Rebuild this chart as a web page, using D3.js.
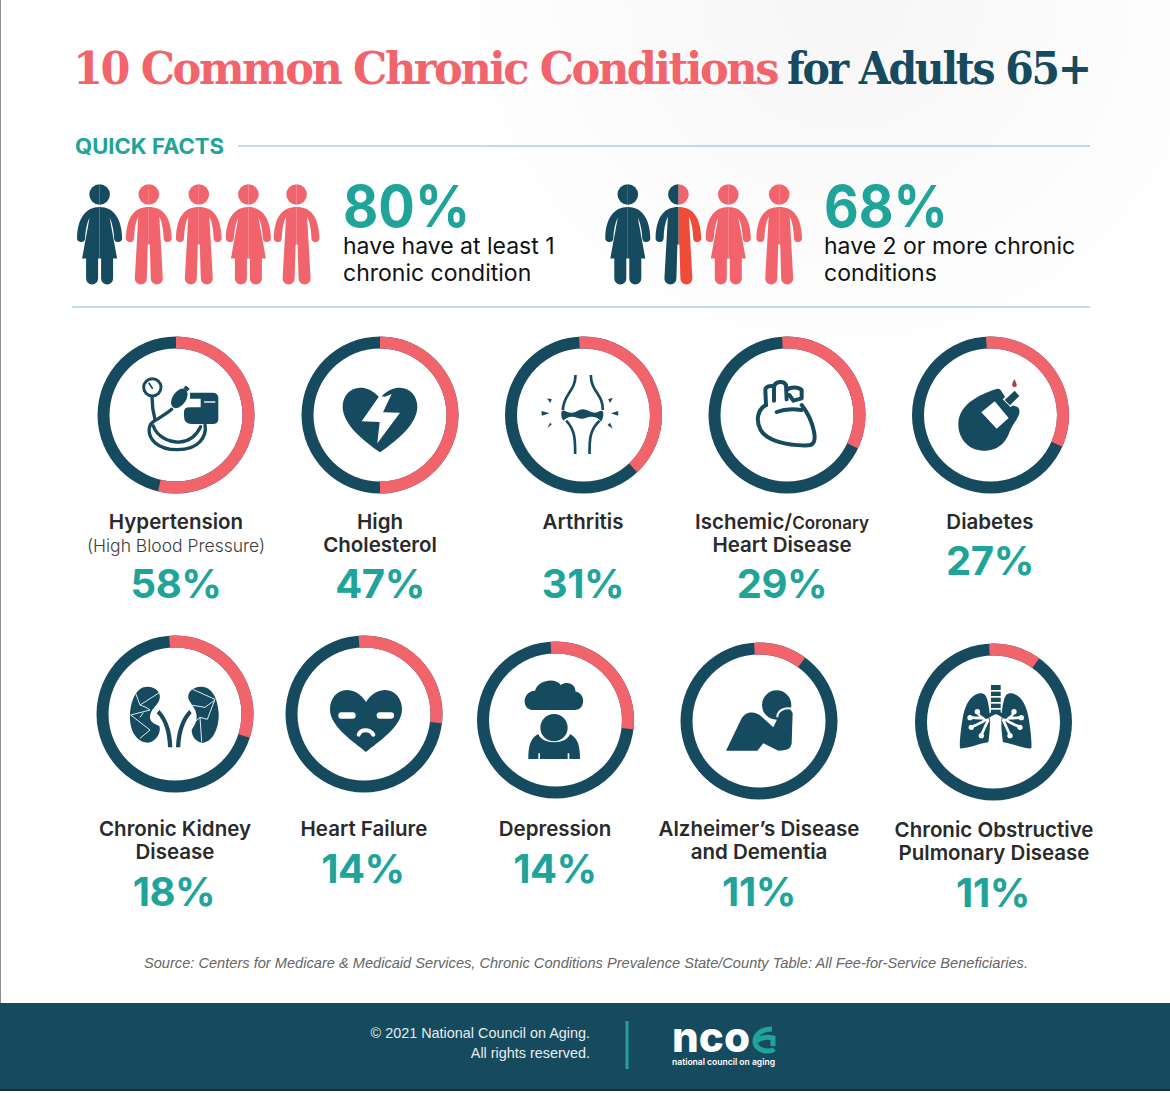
<!DOCTYPE html>
<html>
<head>
<meta charset="utf-8">
<script src="https://cdn.jsdelivr.net/npm/d3@7"></script>
<style>
  html, body { margin: 0; padding: 0; background: #fff; }
  svg { display: block; }
  text { font-family: Inter, "Open Sans", sans-serif; }
</style>
</head>
<body>
<svg id="chart"></svg>
<script>
// values
const conditionNames = [
  ["Hypertension"], ["High", "Cholesterol"], ["Arthritis"], ["Ischemic/Coronary", "Heart Disease"], ["Diabetes"],
  ["Chronic Kidney", "Disease"], ["Heart Failure"], ["Depression"], ["Alzheimer\u2019s Disease", "and Dementia"],
  ["Chronic Obstructive", "Pulmonary Disease"]
];
const conditionValues = [58, 47, 31, 29, 27, 18, 14, 14, 11, 11];
// the drawn arcs do not follow the printed numbers, so they are read separately (% of the circle)
const arcStart = [0, 0, -0.9, -1, -0.9, -1.2, -1.1, -1, -1, -0.9];
const arcEnd = [53.7, 50, 38, 32, 31.6, 29.9, 26.9, 26.9, 10, 9.9];
const iconNames = ["cuff", "broken", "knee", "heart", "meter", "kidney", "face", "cloud", "head", "lungs"];

const factValues = [80, 68];
const factLines = [["have have at least 1", "chronic condition"], ["have 2 or more chronic", "conditions"]];
const factPeople = [
  ["woman", "man", "man", "woman", "man"],
  ["woman", "split", "woman", "man"]
];
const factDark = [[1, 0, 0, 0, 0], [1, 0, 0, 0]];

const titleParts = ["10 Common Chronic Conditions", "for Adults 65+"];
const sourceText = "Source: Centers for Medicare & Medicaid Services, Chronic Conditions Prevalence State/County Table: All Fee-for-Service Beneficiaries.";
const footerLines = ["\u00a9 2021 National Council on Aging.", "All rights reserved."];

// layout
const width = 1170, height = 1093;
const navy = "#164a5f", coral = "#f2646b", teal = "#20a399", rule = "#7fbfc4", red = "#ee4c38";
const ringX = [176, 380, 583.5, 787, 990.5, 175, 364, 555.5, 759, 993.5];
const ringY = [415, 415, 415, 415, 415, 714, 714, 720, 721, 722];
const labelX = [176, 380, 583, 782, 990, 175, 364, 555, 759, 994];
const labelY = [529, 529, 529, 529, 529, 836, 836, 836, 836, 837];
const valueX = [176, 380, 583, 782, 990, 174, 363, 555, 759, 993];
const valueY = [598, 598, 598, 598, 575, 906, 883, 883, 906, 907];
const peopleX = [[99.6, 148.8, 198.8, 248.4, 296.6], [627.8, 678.4, 728.3, 779.2]];
const factX = [343, 824];

const angle = d3.scaleLinear().domain([0, 100]).range([0, 2 * Math.PI]);
const ringArc = d3.arc().innerRadius(66.5).outerRadius(78.5);

const svg = d3.select("#chart").attr("width", width).attr("height", height)
  .attr("viewBox", [0, 0, width, height]);

const defs = svg.append("defs");
const glow = defs.append("radialGradient").attr("id", "bgGlow")
  .attr("cx", 0.72).attr("cy", 0).attr("r", 0.35);
glow.append("stop").attr("offset", 0).attr("stop-color", "#f6f6f7");
glow.append("stop").attr("offset", 1).attr("stop-color", "#ffffff");

svg.append("rect").attr("width", width).attr("height", height).attr("fill", "url(#bgGlow)");
svg.append("rect").attr("width", 1).attr("height", 1003).attr("fill", "#8a8f92");

// title
svg.append("text").attr("x", 73).attr("y", 84).text(titleParts[0])
  .attr("textLength", 704).attr("lengthAdjust", "spacingAndGlyphs")
  .style("font-family", '"DejaVu Serif", serif').style("font-weight", 700).style("font-size", "45px")
  .style("letter-spacing", "-2.5px").attr("fill", coral);
svg.append("text").attr("x", 787).attr("y", 84).text(titleParts[1])
  .attr("textLength", 303).attr("lengthAdjust", "spacingAndGlyphs")
  .style("font-family", '"DejaVu Serif", serif').style("font-weight", 700).style("font-size", "45px")
  .style("letter-spacing", "-2.5px").attr("fill", navy);

// quick facts
svg.append("text").attr("x", 75).attr("y", 154).text("QUICK FACTS")
  .attr("textLength", 149).attr("lengthAdjust", "spacingAndGlyphs")
  .style("font-size", "21px").style("font-weight", 700).attr("fill", teal);
svg.append("line").attr("x1", 238).attr("x2", 1090).attr("y1", 146).attr("y2", 146).attr("stroke", rule).attr("stroke-width", 1);
svg.append("line").attr("x1", 72).attr("x2", 1090).attr("y1", 307).attr("y2", 307).attr("stroke", rule).attr("stroke-width", 1);

const halves = {
  man: "M0,12.5 C14,12.5 22,22 22.8,43 A4,4 0 0 1 14.8,44 C14.6,36 13.5,28 10.5,22 L14,84 A6,6 0 0 1 2,84 L1,50 L0,50 Z",
  woman: "M0,12.5 C14,12.5 22,24 22.5,43 A4,4 0 0 1 14.5,44 C14.2,37 13,29 10,23 L17.5,64 L13.5,64 L13.5,84 A6,6 0 0 1 1.5,84 L1.5,64 L0,64 Z"
};

function drawPerson(g, kind, leftFill, rightFill, headRight) {
  const shape = kind === "split" ? "man" : kind;
  g.append("path").attr("d", halves[shape]).attr("fill", rightFill);
  g.append("path").attr("d", halves[shape]).attr("transform", "scale(-1,1)").attr("fill", leftFill);
  g.append("path").attr("d", "M0,-10.3 A10.3,10.3 0 0 1 0,10.3 Z").attr("fill", headRight);
  g.append("path").attr("d", "M0,-10.3 A10.3,10.3 0 0 0 0,10.3 Z").attr("fill", leftFill);
}

factValues.forEach((v, i) => {
  factPeople[i].forEach((kind, j) => {
    const g = svg.append("g").attr("transform", `translate(${peopleX[i][j]},${194.5})`);
    if (kind === "split") drawPerson(g, kind, navy, red, coral);
    else {
      const c = factDark[i][j] ? navy : coral;
      drawPerson(g, kind, c, c, c);
    }
  });
  svg.append("text").attr("x", factX[i]).attr("y", 227).text(v + "%")
    .attr("textLength", i === 0 ? 127 : 124).attr("lengthAdjust", "spacingAndGlyphs")
    .style("font-size", "58px").style("font-weight", 700).attr("fill", teal);
  factLines[i].forEach((line, k) => {
    svg.append("text").attr("x", factX[i]).attr("y", 254 + k * 26.5).text(line)
      .style("font-size", "23px").style("font-weight", 400).attr("fill", "#111");
  });
});

// icons, drawn at 3x around their own centre
const iconCentre = {
  cuff: [258, 255], broken: [870, 255], knee: [250, 255], heart: [861, 255], meter: [271.5, 255],
  kidney: [255, 252], face: [822, 252], cloud: [256.5, 270], head: [867, 273], lungs: [280.5, 261]
};
const iconDraw = {
  cuff(g) {
    g.append("circle").attr("cx", 187).attr("cy", 172).attr("r", 26).attr("fill", "none").attr("stroke", navy).attr("stroke-width", 9);
    g.append("path").attr("d", "M176,158 L188,176").attr("stroke", navy).attr("stroke-width", 5);
    const lines = g.append("g").attr("fill", "none").attr("stroke", navy).attr("stroke-width", 10).attr("stroke-linecap", "round");
    lines.append("path").attr("d", "M186,200 C186,225 190,250 195,268");
    lines.append("path").attr("d", "M245,238 C225,255 205,265 190,275 C170,290 175,320 195,338 C225,365 300,368 330,335 C345,318 348,300 345,285");
    lines.append("path").attr("d", "M190,288 C200,318 235,338 270,336 C298,334 318,318 332,290");
    g.append("ellipse").attr("cx", 268).attr("cy", 205).attr("rx", 33).attr("ry", 20).attr("transform", "rotate(-55 268 205)").attr("fill", navy);
    g.append("path").attr("d", "M284,170 L296,180").attr("stroke", navy).attr("stroke-width", 10);
    g.append("path").attr("d", "M300,188 H368 Q385,188 385,205 V268 Q385,282 368,282 H305 Q282,282 282,258 V245 Q282,232 300,232 H332 V206 H300 Z").attr("fill", navy);
    g.append("path").attr("d", "M342,216 H376").attr("fill", "none").attr("stroke", "#fff").attr("stroke-width", 4);
  },
  broken(g) {
    g.append("path").attr("d", "M870,205 C850,180 830,173 810,173 C780,173 758,198 758,230 C758,285 825,335 870,367 C915,335 982,285 982,230 C982,198 960,173 930,173 C910,173 890,180 870,205 Z").attr("fill", navy);
    g.append("path").attr("d", "M868,198 L815,274 L869,276 L862,340 L930,248 L879,247 L905,192 L885,200 Z").attr("fill", "#fff");
  },
  knee(g) {
    const lines = g.append("g").attr("fill", "none").attr("stroke", navy).attr("stroke-width", 8);
    lines.append("path").attr("d", "M226,135 C226,185 190,190 188,240");
    lines.append("path").attr("d", "M272,135 C272,185 308,190 308,240");
    lines.append("path").attr("d", "M198,272 C225,300 225,330 225,372");
    lines.append("path").attr("d", "M298,272 C268,300 268,330 268,372");
    g.append("path").attr("d", "M184,245 C190,235 198,248 215,248 C230,248 235,238 248,238 C262,238 268,248 285,248 C295,248 302,238 309,245 C310,255 310,265 302,275 C295,262 285,260 272,260 C262,260 255,266 245,266 C235,266 228,260 215,260 C205,260 195,265 190,272 C184,265 182,255 184,245 Z").attr("fill", navy);
    const ticks = ["M141,205 L155,208 L150,219 Z", "M124,243 L148,250 L125,257 Z", "M141,295 L155,283 L150,278 Z", "M338,203 L324,208 L330,219 Z", "M354,243 L332,250 L354,257 Z", "M337,296 L322,285 L330,278 Z"];
    g.selectAll(null).data(ticks).join("path").attr("d", d => d).attr("fill", navy);
  },
  heart(g) {
    const lines = g.append("g").attr("fill", "none").attr("stroke", navy).attr("stroke-width", 12).attr("stroke-linecap", "round").attr("stroke-linejoin", "round");
    lines.append("path").attr("d", "M798,225 C770,240 768,275 782,300 C800,332 860,348 925,346 C945,345 946,325 942,305 C935,270 925,250 905,225");
    lines.append("path").attr("d", "M830,246 C850,238 880,236 905,240");
    lines.append("path").attr("d", "M798,225 L796,180 C796,170 812,165 822,170 L822,212");
    lines.append("path").attr("d", "M822,170 C825,155 850,150 858,165 L860,208");
    lines.append("path").attr("d", "M860,180 C870,170 895,170 905,180 L905,205 L880,212 L868,195");
  },
  meter(g) {
    g.append("path").attr("d", "M290,177 C250,190 175,218 175,283 C175,330 210,362 250,362 C300,362 320,332 330,302 C340,278 362,260 358,240 C355,226 338,228 330,225 L304,183 C300,177 296,175 290,177 Z").attr("fill", navy);
    g.append("path").attr("d", "M244,247 L284,214 L326,264 L290,296 Z").attr("fill", "#fff");
    g.append("path").attr("d", "M308,208 L345,174 L366,196 L332,232 Z").attr("fill", "#fff");
    g.append("path").attr("d", "M314,210 L344,182 L358,198 L330,226 Z").attr("fill", navy);
    g.append("path").attr("d", "M343,147 C338,157 335,162 337,167 C340,172 348,172 350,167 C351,162 348,157 343,147 Z").attr("fill", "#b2403f");
  },
  kidney(g) {
    g.append("path").attr("d", "M172,170 C200,170 215,190 208,210 C200,230 180,238 180,262 C180,278 195,282 208,288 C215,310 195,338 172,338 C135,335 118,295 120,255 C122,210 140,170 172,170 Z").attr("fill", navy);
    g.append("path").attr("d", "M335,170 C300,170 288,195 298,212 C310,232 320,240 320,262 C320,280 310,290 305,300 C305,322 320,338 340,338 C370,335 388,290 386,250 C384,205 365,170 335,170 Z").attr("fill", navy);
    const cracks = g.append("g").attr("fill", "none").attr("stroke", "#dcecf2").attr("stroke-width", 3);
    cracks.append("path").attr("d", "M137,190 L150,225 L208,188 M150,225 L168,232 L180,240 L122,255 L180,300 L150,325 M160,248 L150,262");
    cracks.append("path").attr("d", "M308,178 L375,208 L352,268 L330,262 L335,335 M375,210 L345,232 L302,225 M330,262 L305,285");
    g.append("path").attr("d", "M208,240 C230,262 246,300 247,352 L234,352 C233,310 222,270 200,250 Z").attr("fill", navy);
    g.append("path").attr("d", "M298,240 C275,262 260,300 258,352 L271,352 C272,310 285,270 305,250 Z").attr("fill", navy);
  },
  face(g) {
    g.append("path").attr("d", "M828,216 C812,190 790,180 770,180 C742,180 720,205 720,238 C720,290 790,335 828,366 C866,335 936,290 936,238 C936,205 914,180 886,180 C866,180 844,190 828,216 Z").attr("fill", navy);
    g.append("rect").attr("x", 745).attr("y", 247).attr("width", 52).attr("height", 19).attr("rx", 9).attr("fill", "#fff");
    g.append("rect").attr("x", 860).attr("y", 247).attr("width", 52).attr("height", 19).attr("rx", 9).attr("fill", "#fff");
    g.append("path").attr("d", "M806,314 C812,296 840,296 850,314").attr("fill", "none").attr("stroke", "#fff").attr("stroke-width", 12).attr("stroke-linecap", "round");
  },
  cloud(g) {
    g.append("path").attr("d", "M188,240 C155,238 155,185 195,182 C205,148 258,142 272,165 C295,150 318,165 316,184 C350,192 345,240 315,240 Z").attr("fill", navy);
    g.append("path").attr("d", "M175,387 C175,350 180,325 205,312 C215,345 290,345 300,312 C325,325 330,350 330,387 H298 V370 H293 V387 H210 V370 H205 V387 Z").attr("fill", navy);
    g.append("circle").attr("cx", 252).attr("cy", 293).attr("r", 41).attr("fill", navy);
  },
  head(g) {
    g.append("circle").attr("cx", 920).attr("cy", 225).attr("r", 44).attr("fill", navy);
    g.append("path").attr("d", "M768,362 L815,265 C830,240 860,245 875,260 L910,292 L925,260 C928,235 960,225 968,250 L965,340 C962,358 950,362 925,362 L880,340 L862,362 Z").attr("fill", navy).attr("stroke", "none");
    g.append("path").attr("d", "M922,262 C922,240 945,232 965,236").attr("fill", "none").attr("stroke", "#fff").attr("stroke-width", 6);
  },
  lungs(g) {
    const half = g.append("g");
    half.append("path").attr("d", "M240,175 C215,178 195,205 188,250 C183,280 178,320 180,340 C200,342 240,325 265,322 C272,280 272,230 262,195 C258,180 252,174 240,175 Z").attr("fill", navy);
    const air = half.append("g").attr("fill", "none").attr("stroke", "#fff").attr("stroke-width", 8).attr("stroke-linecap", "round");
    air.append("path").attr("d", "M272,245 C255,250 245,255 232,232 M254,250 L212,248 M260,252 C245,265 230,268 215,276 M264,256 L244,300");
    half.selectAll(null).data([[232, 230], [210, 248], [214, 277], [244, 302]]).join("circle")
      .attr("cx", d => d[0]).attr("cy", d => d[1]).attr("r", 8).attr("fill", "#fff");
    const other = g.append("g").attr("transform", "translate(574,0) scale(-1,1)");
    other.node().appendChild(half.node().cloneNode(true));
    g.append("path").attr("d", "M273,150 H302 V232 C312,240 318,242 330,240 L318,252 C305,250 295,238 288,238 C280,238 270,250 257,252 L245,240 C255,242 265,240 273,232 Z").attr("fill", navy);
    g.selectAll(null).data([165, 183, 201, 219]).join("rect")
      .attr("x", 270).attr("y", d => d).attr("width", 35).attr("height", 5).attr("fill", "#fff");
  }
};

// rings
conditionValues.forEach((v, i) => {
  const g = svg.append("g").attr("transform", `translate(${ringX[i]},${ringY[i]})`);
  g.append("path").attr("d", ringArc({ startAngle: angle(0), endAngle: angle(100) })).attr("fill", navy);
  g.append("path").attr("d", ringArc({ startAngle: angle(arcStart[i]), endAngle: angle(arcEnd[i]) })).attr("fill", coral);
  const name = iconNames[i];
  const ig = g.append("g").attr("transform", `scale(${1 / 3}) translate(${-iconCentre[name][0]},${-iconCentre[name][1]})`);
  iconDraw[name](ig);

  conditionNames[i].forEach((line, k) => {
    const t = svg.append("text").attr("x", labelX[i]).attr("y", labelY[i] + k * 23)
      .attr("text-anchor", "middle").style("font-size", "20.5px").style("font-weight", 600).attr("fill", "#2a2a2a");
    if (line.includes("/")) {
      const parts = line.split("/");
      t.append("tspan").text(parts[0] + "/");
      t.append("tspan").text(parts[1]).style("font-size", "17px");
    } else t.text(line);
  });
  svg.append("text").attr("x", valueX[i]).attr("y", valueY[i]).attr("text-anchor", "middle")
    .text(v + "%").style("font-size", "40px").style("font-weight", 700).style("letter-spacing", "-0.4px").attr("fill", teal);
});

svg.append("text").attr("x", 176).attr("y", 552).attr("text-anchor", "middle")
  .text("(High Blood Pressure)").style("font-size", "17.5px").style("font-weight", 300).attr("fill", "#3c3c3c");

svg.append("text").attr("x", 144).attr("y", 968).text(sourceText)
  .attr("textLength", 884).attr("lengthAdjust", "spacingAndGlyphs")
  .style("font-family", '"Liberation Sans", sans-serif').style("font-style", "italic").style("font-size", "14.5px").attr("fill", "#666");

// footer
svg.append("rect").attr("y", 1003).attr("width", width).attr("height", 86).attr("fill", navy);
svg.append("rect").attr("y", 1089).attr("width", width).attr("height", 2).attr("fill", "#1e2a30");
footerLines.forEach((line, i) => {
  svg.append("text").attr("x", 590).attr("y", 1038 + i * 20).attr("text-anchor", "end").text(line)
    .style("font-family", '"Liberation Sans", sans-serif').style("font-size", "14.4px").attr("fill", "#e6edf0");
});
svg.append("rect").attr("x", 625.5).attr("y", 1021).attr("width", 3).attr("height", 48).attr("fill", "#2a9d98");
svg.append("text").attr("x", 672).attr("y", 1052).text("nco")
  .attr("textLength", 78).attr("lengthAdjust", "spacingAndGlyphs")
  .style("font-size", "42px").style("font-weight", 800).attr("fill", "#fff");
svg.append("text").attr("x", 672).attr("y", 1065).text("national council on aging")
  .attr("textLength", 103).attr("lengthAdjust", "spacingAndGlyphs")
  .style("font-size", "9px").style("font-weight", 600).attr("fill", "#fff");
const swirl = svg.append("g").attr("transform", "translate(764,1040)").attr("fill", "none").attr("stroke", teal).attr("stroke-width", 5);
swirl.append("path").attr("d", "M8,-11 C-4,-11 -9,-4 -9,1 C-9,8 -2,11 4,11 C7,11 9,10 10,9");
swirl.append("path").attr("d", "M-8,1 C-2,-3 5,-3 9,-2 L9,6");
</script>
</body>
</html>
